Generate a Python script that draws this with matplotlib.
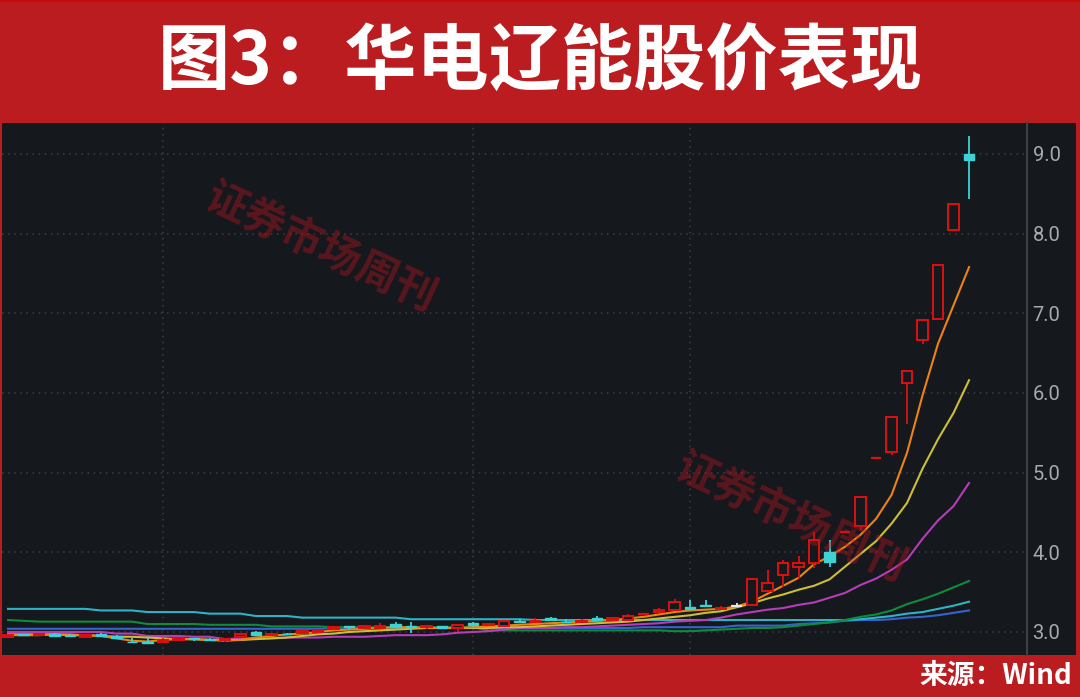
import matplotlib
matplotlib.use('Agg')
import matplotlib.pyplot as plt
from matplotlib.patches import Rectangle

# weekly candles
opens = [2.94, 2.97, 2.96, 2.98, 2.96, 2.94, 2.98, 2.95, 2.88, 2.87,
         2.87, 2.90, 2.92, 2.91, 2.90, 2.94, 3.00, 2.96, 2.98, 2.99,
         3.00, 3.04, 3.07, 3.05, 3.05, 3.10, 3.07, 3.06, 3.07, 3.05,
         3.11, 3.09, 3.08, 3.14, 3.12, 3.17, 3.13, 3.12, 3.17, 3.15,
         3.15, 3.23, 3.25, 3.28, 3.31, 3.34, 3.29, 3.32, 3.34, 3.52,
         3.71, 3.82, 3.86, 4.00, 4.26, 4.33, 5.18, 5.26, 6.12, 6.67,
         6.93, 8.05, 9.00]
highs = [2.97, 2.98, 2.98, 2.99, 2.97, 2.98, 2.99, 2.96, 2.93, 2.92,
         2.92, 2.93, 2.93, 2.93, 2.92, 2.97, 3.01, 2.99, 2.99, 3.03,
         3.04, 3.08, 3.08, 3.09, 3.11, 3.12, 3.12, 3.08, 3.08, 3.09,
         3.12, 3.11, 3.15, 3.16, 3.17, 3.19, 3.16, 3.16, 3.20, 3.19,
         3.22, 3.23, 3.30, 3.42, 3.40, 3.40, 3.33, 3.37, 3.67, 3.78,
         3.90, 3.95, 4.26, 4.15, 4.26, 4.70, 5.18, 5.70, 6.27, 6.91,
         7.61, 8.37, 9.22]
lows = [2.93, 2.95, 2.95, 2.95, 2.94, 2.92, 2.94, 2.91, 2.86, 2.85,
        2.86, 2.89, 2.89, 2.89, 2.88, 2.93, 2.95, 2.95, 2.96, 2.98,
        2.99, 3.03, 3.04, 3.04, 3.04, 3.05, 2.99, 3.04, 3.04, 3.00,
        3.06, 3.07, 3.07, 3.11, 3.11, 3.14, 3.11, 3.11, 3.14, 3.14,
        3.14, 3.23, 3.24, 3.26, 3.28, 3.31, 3.27, 3.31, 3.33, 3.49,
        3.57, 3.66, 3.80, 3.82, 4.26, 4.28, 5.18, 5.22, 5.61, 6.62,
        6.93, 8.05, 8.44]
closes = [2.96, 2.96, 2.97, 2.95, 2.95, 2.96, 2.95, 2.92, 2.87, 2.86,
          2.90, 2.92, 2.91, 2.90, 2.91, 2.97, 2.96, 2.98, 2.97, 3.01,
          3.02, 3.06, 3.06, 3.07, 3.08, 3.06, 3.06, 3.07, 3.05, 3.09,
          3.09, 3.10, 3.14, 3.12, 3.14, 3.15, 3.12, 3.14, 3.15, 3.17,
          3.20, 3.23, 3.28, 3.38, 3.29, 3.32, 3.30, 3.32, 3.67, 3.62,
          3.87, 3.87, 4.15, 3.88, 4.26, 4.70, 5.18, 5.70, 6.27, 6.91,
          7.61, 8.37, 8.93]

# moving average lines, same 63 weeks
ma_orange = [2.96, 2.96, 2.96, 2.97, 2.97, 2.96, 2.95, 2.92, 2.89, 2.88,
             2.90, 2.91, 2.91, 2.90, 2.89, 2.90, 2.93, 2.95, 2.97, 2.98,
             3.00, 3.02, 3.03, 3.04, 3.05, 3.06, 3.06, 3.05, 3.05, 3.05,
             3.06, 3.07, 3.08, 3.09, 3.10, 3.11, 3.12, 3.13, 3.14, 3.15,
             3.17, 3.19, 3.22, 3.25, 3.27, 3.28, 3.29, 3.32, 3.38, 3.48,
             3.58, 3.68, 3.85, 3.95, 4.07, 4.22, 4.42, 4.72, 5.25, 5.97,
             6.62, 7.10, 7.58]
ma_yellow = [2.97, 2.97, 2.97, 2.97, 2.96, 2.96, 2.95, 2.94, 2.94, 2.93,
             2.92, 2.91, 2.91, 2.90, 2.90, 2.90, 2.91, 2.92, 2.93, 2.95,
             2.97, 2.98, 3.00, 3.01, 3.02, 3.03, 3.04, 3.05, 3.05, 3.05,
             3.05, 3.05, 3.06, 3.06, 3.07, 3.08, 3.09, 3.10, 3.11, 3.12,
             3.13, 3.15, 3.17, 3.19, 3.21, 3.24, 3.26, 3.31, 3.36, 3.42,
             3.47, 3.53, 3.58, 3.66, 3.82, 3.98, 4.14, 4.36, 4.62, 5.05,
             5.42, 5.75, 6.16]
ma_magenta = [3.00, 3.00, 3.00, 3.00, 3.00, 3.00, 3.00, 2.98, 2.98, 2.95,
              2.95, 2.95, 2.94, 2.94, 2.91, 2.92, 2.92, 2.92, 2.93, 2.93,
              2.93, 2.94, 2.94, 2.94, 2.95, 2.96, 2.96, 2.96, 2.97, 2.99,
              3.00, 3.01, 3.03, 3.05, 3.05, 3.05, 3.06, 3.06, 3.07, 3.08,
              3.09, 3.10, 3.11, 3.13, 3.14, 3.15, 3.18, 3.22, 3.25, 3.28,
              3.30, 3.34, 3.37, 3.43, 3.49, 3.59, 3.67, 3.78, 3.91, 4.17,
              4.40, 4.58, 4.87]
ma_green = [3.15, 3.14, 3.13, 3.13, 3.13, 3.13, 3.13, 3.13, 3.13, 3.10,
            3.10, 3.10, 3.10, 3.09, 3.09, 3.09, 3.09, 3.07, 3.07, 3.07,
            3.07, 3.06, 3.06, 3.06, 3.06, 3.06, 3.06, 3.06, 3.06, 3.06,
            3.06, 3.02, 3.02, 3.02, 3.02, 3.02, 3.02, 3.02, 3.02, 3.02,
            3.02, 3.02, 3.02, 3.01, 3.01, 3.02, 3.03, 3.04, 3.05, 3.05,
            3.06, 3.08, 3.10, 3.12, 3.15, 3.19, 3.22, 3.27, 3.35, 3.41,
            3.48, 3.56, 3.64]
ma_teal = [3.29, 3.29, 3.29, 3.29, 3.29, 3.29, 3.27, 3.27, 3.27, 3.25,
           3.25, 3.25, 3.25, 3.23, 3.23, 3.23, 3.20, 3.20, 3.20, 3.18,
           3.18, 3.18, 3.18, 3.18, 3.18, 3.18, 3.16, 3.16, 3.16, 3.16,
           3.16, 3.16, 3.16, 3.16, 3.15, 3.15, 3.15, 3.15, 3.15, 3.15,
           3.15, 3.15, 3.15, 3.15, 3.15, 3.15, 3.15, 3.15, 3.15, 3.15,
           3.15, 3.15, 3.15, 3.15, 3.15, 3.16, 3.18, 3.20, 3.23, 3.25,
           3.29, 3.33, 3.38]
ma_blue = [3.04, 3.04, 3.04, 3.04, 3.04, 3.04, 3.04, 3.04, 3.04, 3.04,
           3.04, 3.04, 3.04, 3.04, 3.04, 3.04, 3.04, 3.04, 3.04, 3.04,
           3.04, 3.05, 3.05, 3.05, 3.05, 3.05, 3.05, 3.05, 3.05, 3.05,
           3.05, 3.05, 3.05, 3.05, 3.05, 3.05, 3.05, 3.05, 3.05, 3.05,
           3.05, 3.06, 3.06, 3.06, 3.06, 3.06, 3.06, 3.08, 3.08, 3.08,
           3.08, 3.10, 3.11, 3.12, 3.14, 3.15, 3.15, 3.16, 3.18, 3.19,
           3.21, 3.24, 3.27]

price_ticks = [3.0, 4.0, 5.0, 6.0, 7.0, 8.0, 9.0]
month_lines = [10, 30, 44]

title = '图3：华电辽能股价表现'
source = '来源：Wind'
watermark = '证券市场周刊'

RED = '#bb1c20'
BG = '#15181d'
UP = '#dc1010'
DOWN = '#3ed2d4'
GRID = '#3b3f45'

W, H = 1080, 697
fig = plt.figure(figsize=(W / 100, H / 100), dpi=100, facecolor=RED)
# dark panel incl. the label strip on the right
fig.patches.append(Rectangle((2 / W, 42 / H), 1074 / W, 532 / H,
                             transform=fig.transFigure, facecolor=BG,
                             edgecolor='none', zorder=-2))
fig.patches.append(Rectangle((0, 1 - 2 / H), 1, 2 / H, transform=fig.transFigure,
                             facecolor='#c80a0a', edgecolor='none', zorder=-2))

ax = fig.add_axes([2 / W, 42 / H, 1025 / W, 532 / H], facecolor=BG)
ax.set_zorder(1)
ax.set_xlim(-0.39, 65.74)
ax.set_ylim(2.711, 9.389)

for v in price_ticks:
    ax.axhline(v, color=GRID, lw=1.1, ls=(0, (1, 3)), zorder=1)
for m in month_lines:
    ax.axvline(m, color=GRID, lw=1.1, ls=(0, (1, 3)), zorder=1)

x = list(range(len(closes)))
ma_lines = [(ma_blue, '#3563d0'), (ma_teal, '#2db3c4'), (ma_green, '#0c8c3c'),
            (ma_magenta, '#b63cb8'), (ma_yellow, '#cdbf34'), (ma_orange, '#ee8410')]
for vals, col in ma_lines:
    ax.plot(x, vals, color=col, lw=1.5, zorder=2)

# candles
bw = 0.7
up = [i for i in x if closes[i] > opens[i]]
down = [i for i in x if closes[i] < opens[i]]
flat = [i for i in x if closes[i] == opens[i]]

ax.bar(up, [closes[i] - opens[i] for i in up], bottom=[opens[i] for i in up],
       width=bw, facecolor=BG, edgecolor=UP, linewidth=1.4, zorder=4)
ax.vlines(up, [closes[i] for i in up], [highs[i] for i in up], color=UP, lw=1.3, zorder=4)
ax.vlines(up, [lows[i] for i in up], [opens[i] for i in up], color=UP, lw=1.3, zorder=4)

ax.bar(down, [opens[i] - closes[i] for i in down], bottom=[closes[i] for i in down],
       width=bw, facecolor=DOWN, edgecolor=DOWN, linewidth=1.0, zorder=4)
ax.vlines(down, [lows[i] for i in down], [highs[i] for i in down], color=DOWN, lw=1.3, zorder=3.9)

for i in flat:
    col = UP if highs[i] == lows[i] else '#e8e8e8'
    ax.hlines(closes[i], i - bw / 2, i + bw / 2, color=col, lw=1.6, zorder=4)
    ax.vlines(i, lows[i], highs[i], color=col, lw=1.3, zorder=4)

ax.yaxis.tick_right()
ax.set_yticks(price_ticks)
ax.set_yticklabels(['%.1f' % v for v in price_ticks])
ax.tick_params(axis='y', length=0, pad=4, labelsize=14.5, labelcolor='#a6aaaf')
for lab in ax.get_yticklabels():
    lab.set_family('Roboto')
ax.set_xticks([])
for s in ['top', 'left', 'bottom']:
    ax.spines[s].set_visible(False)
ax.spines['right'].set_color('#3d4147')
ax.spines['right'].set_linewidth(1.5)

# watermarks
for cx, cy in [(320, 248), (790, 518)]:
    fig.text(cx / W, 1 - cy / H, watermark, family='Noto Sans CJK SC', weight='bold',
             fontsize=30, color='#c0141e', alpha=0.4, rotation=-25,
             ha='center', va='center', zorder=10)

fig.text(0.5, 1 - 63 / H, title, family=['Noto Sans CJK SC', 'DejaVu Sans'],
         weight='heavy', fontsize=52, color='white', ha='center', va='center')
fig.text(1072 / W, 1 - 676 / H, source, family=['Noto Sans CJK SC', 'DejaVu Sans'],
         weight='bold', fontsize=20, color='white', ha='right', va='center')

fig.savefig('out.png', dpi=100, facecolor=RED)
